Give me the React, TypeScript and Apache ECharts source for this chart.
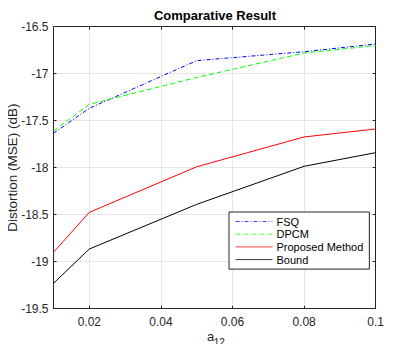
import React, { useEffect, useRef } from "react";
import * as echarts from "echarts";

const xValues = [0.01, 0.02, 0.05, 0.08, 0.1];
const fsq = [-17.634, -17.368, -16.861, -16.766, -16.684];
const dpcm = [-17.61, -17.326, -17.04, -16.78, -16.7];
const proposed = [-18.9, -18.475, -17.99, -17.673, -17.588];
const bound = [-19.23, -18.865, -18.39, -17.985, -17.84];
const xTicks = [0.02, 0.04, 0.06, 0.08, 0.1];
const seriesNames = ["FSQ", "DPCM", "Proposed Method", "Bound"];
const seriesColors = ["#0000ff", "#00ff00", "#ff0000", "#000000"];
const seriesDash: any[] = [[4, 2, 1, 2], [5, 3], "solid", "solid"];

const FONT = "Liberation Sans, Arial, Helvetica, sans-serif";

export default function App() {
  const ref = useRef<HTMLDivElement>(null);
  useEffect(() => {
    if (!ref.current) return;
    const chart = echarts.init(ref.current, null, { renderer: "svg" });
    const pair = (ys: number[]) => xValues.map((x, i) => [x, ys[i]]);
    const allData = [fsq, dpcm, proposed, bound];
    const series = seriesNames.map((name, i) => ({
      name,
      type: "line",
      data: pair(allData[i]),
      showSymbol: false,
      symbol: "none",
      color: seriesColors[i],
      lineStyle: { color: seriesColors[i], width: 1, type: seriesDash[i] },
      itemStyle: { color: seriesColors[i] },
      xAxisIndex: 0,
      yAxisIndex: 0,
    }));
    const xCommon = {
      type: "value",
      min: 0.01,
      max: 0.1,
    };
    const yCommon = {
      type: "value",
      min: -19.5,
      max: -16.5,
      interval: 0.5,
    };
    chart.setOption({
      animation: false,
      backgroundColor: "#fff",
      title: {
        text: "Comparative Result",
        left: 215,
        textAlign: "center",
        top: 9,
        padding: 0,
        textStyle: { fontFamily: FONT, fontSize: 13, fontWeight: "bold", color: "#000" },
      },
      grid: { left: 53.5, right: 39.3, top: 26.7, bottom: 43.3, outerBoundsMode: "none", containLabel: false },
      legend: {
        orient: "vertical",
        left: 229,
        top: 212,
        width: 140,
        padding: [4, 6, 4, 6],
        itemGap: 1.7,
        itemWidth: 37,
        itemHeight: 12,
        backgroundColor: "#fff",
        borderColor: "#262626",
        borderWidth: 1,
        borderRadius: 0,
        itemStyle: { opacity: 0 },
        textStyle: { fontFamily: FONT, fontSize: 11, color: "#000", padding: [0, 0, 0, -1] },
        data: seriesNames.map((name, i) => ({
          name,
          lineStyle: { color: seriesColors[i], width: 1, type: seriesDash[i], opacity: 0.75 },
          itemStyle: { opacity: 0 },
        })),
      },
      graphic: [
        {
          type: "text",
          x: 207,
          y: 336,
          z: 100,
          style: { text: "a", fontFamily: FONT, fontSize: 13, fill: "#262626", verticalAlign: "middle", align: "left" },
        },
        {
          type: "text",
          x: 213.8,
          y: 342.3,
          z: 100,
          style: { text: "12", fontFamily: FONT, fontSize: 10, fill: "#262626", verticalAlign: "middle", align: "left" },
        },
      ],
      xAxis: [
        {
          ...xCommon,
          position: "bottom",
          axisLine: { show: true, onZero: false, lineStyle: { color: "#262626", width: 1 } },
          axisTick: { show: true, inside: true, length: 3, customValues: xTicks, lineStyle: { color: "#262626" } },
          axisLabel: {
            customValues: xTicks,
            fontFamily: FONT,
            fontSize: 12,
            color: "#262626",
            margin: 7,
            formatter: (v: number) => String(+v.toFixed(2)),
          },
          splitLine: { show: true, lineStyle: { color: "#e6e6e6", width: 1 } },
        },
        {
          ...xCommon,
          position: "top",
          axisLine: { show: true, onZero: false, lineStyle: { color: "#262626", width: 1 } },
          axisTick: { show: true, inside: true, length: 3, customValues: xTicks, lineStyle: { color: "#262626" } },
          axisLabel: { show: false },
          splitLine: { show: false },
        },
      ],
      yAxis: [
        {
          ...yCommon,
          position: "left",
          name: "Distortion (MSE) (dB)",
          nameLocation: "middle",
          nameGap: 34.5,
          nameMoveOverlap: false,
          nameTextStyle: { fontFamily: FONT, fontSize: 13.5, color: "#262626" },
          axisLine: { show: true, onZero: false, lineStyle: { color: "#262626", width: 1 } },
          axisTick: { show: true, inside: true, length: 3, lineStyle: { color: "#262626" } },
          axisLabel: {
            fontFamily: FONT,
            fontSize: 12,
            color: "#262626",
            margin: 5,
            formatter: (v: number) => String(v),
          },
          splitLine: { show: true, lineStyle: { color: "#e6e6e6", width: 1 } },
        },
        {
          ...yCommon,
          position: "right",
          axisLine: { show: true, onZero: false, lineStyle: { color: "#262626", width: 1 } },
          axisTick: { show: true, inside: true, length: 3, lineStyle: { color: "#262626" } },
          axisLabel: { show: false },
          splitLine: { show: false },
        },
      ],
      series,
    });
    return () => chart.dispose();
  }, []);
  return <div ref={ref} style={{ width: 415, height: 352, margin: -8 }} />;
}
